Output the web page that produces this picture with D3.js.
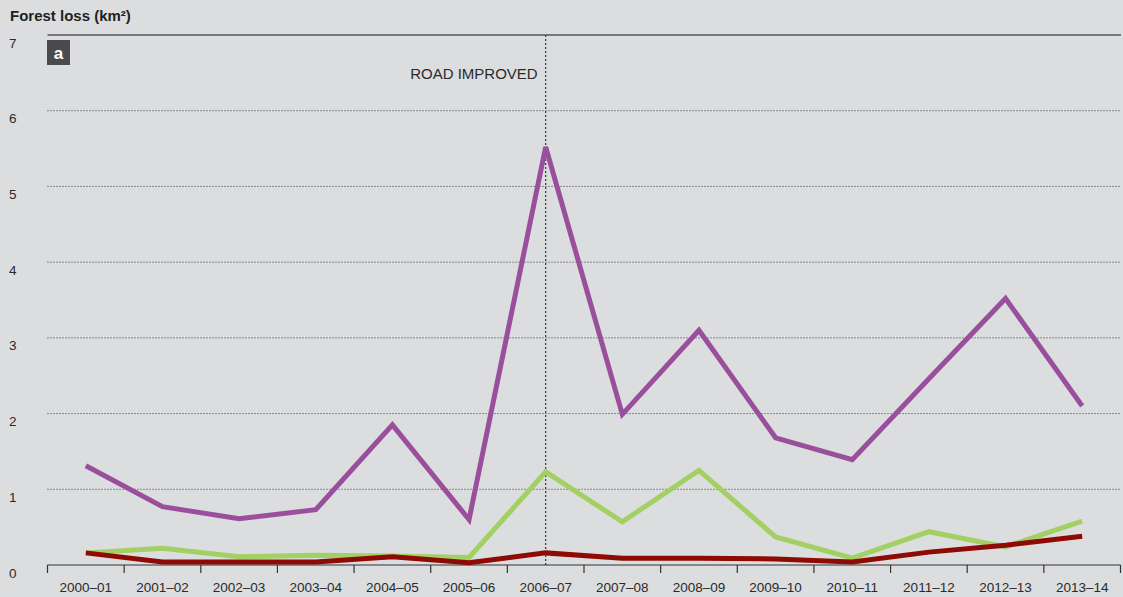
<!DOCTYPE html>
<html>
<head>
<meta charset="utf-8">
<script src="https://cdn.jsdelivr.net/npm/d3@7"></script>
<style>
  html, body { margin: 0; padding: 0; background: #dcdddf; }
  svg { display: block; font-family: "Liberation Sans", Arial, Helvetica, sans-serif; }
</style>
</head>
<body>
<svg id="chart" width="1123" height="597"></svg>
<script>
// Forest loss per year (km²), three series
const years = ["2000–01","2001–02","2002–03","2003–04","2004–05","2005–06","2006–07",
               "2007–08","2008–09","2009–10","2010–11","2011–12","2012–13","2013–14"];
const purpleSeries = [1.31, 0.77, 0.61, 0.73, 1.85, 0.60, 5.52, 1.99, 3.10, 1.68, 1.39, 2.46, 3.52, 2.10];
const greenSeries  = [0.16, 0.22, 0.11, 0.13, 0.12, 0.10, 1.23, 0.57, 1.25, 0.37, 0.09, 0.44, 0.24, 0.58];
const redSeries    = [0.16, 0.04, 0.04, 0.04, 0.11, 0.03, 0.16, 0.09, 0.09, 0.08, 0.04, 0.17, 0.26, 0.38];
const yTicks = [0, 1, 2, 3, 4, 5, 6, 7];
const eventYear = "2006–07";
const eventLabel = "ROAD IMPROVED";

const svg = d3.select("#chart");
const plotLeft = 47.5, plotRight = 1120.5, plotTop = 35, plotBottom = 565;

const x = d3.scaleBand().domain(years).range([plotLeft, plotRight]);
const y = d3.scaleLinear().domain([0, 7]).range([plotBottom, plotTop]);
const cx = d => x(d) + x.bandwidth() / 2;

// Title
svg.append("text").attr("x", 10).attr("y", 21)
  .attr("font-size", 15).attr("font-weight", "bold").attr("fill", "#222")
  .text("Forest loss (km²)");

// Dotted gridlines
svg.append("g").selectAll("line")
  .data(yTicks.filter(t => t > 0 && t < 7))
  .join("line")
  .attr("x1", plotLeft).attr("x2", plotRight)
  .attr("y1", d => y(d)).attr("y2", d => y(d))
  .attr("stroke", "#333").attr("stroke-width", 1)
  .attr("stroke-dasharray", "1,2");

// Top rule
svg.append("line").attr("x1", plotLeft).attr("x2", plotRight + 0.5)
  .attr("y1", y(7)).attr("y2", y(7))
  .attr("stroke", "#555").attr("stroke-width", 1.5);

// Y tick labels
svg.append("g").selectAll("text")
  .data(yTicks).join("text")
  .attr("x", 9).attr("y", d => y(d) + 12.5)
  .attr("font-size", 13.5).attr("fill", "#2a2a2a")
  .text(d => d);

// Event marker
const ex = cx(eventYear);
svg.append("line").attr("x1", ex).attr("x2", ex)
  .attr("y1", y(7)).attr("y2", plotBottom + 2)
  .attr("stroke", "#333").attr("stroke-width", 1.2)
  .attr("stroke-dasharray", "2,2");
svg.append("text").attr("x", ex - 8).attr("y", 79)
  .attr("text-anchor", "end").attr("font-size", 15).attr("fill", "#2a2a2a")
  .text(eventLabel);

// X axis
const xAxis = svg.append("g").attr("transform", `translate(0,${plotBottom})`);
xAxis.append("line").attr("x1", plotLeft).attr("x2", plotRight)
  .attr("stroke", "#333").attr("stroke-width", 1.2);
const edges = years.map(d => x(d)).concat([plotRight]);
xAxis.selectAll("line.tick").data(edges).join("line")
  .attr("class", "tick")
  .attr("x1", d => d).attr("x2", d => d)
  .attr("y1", 0).attr("y2", 8)
  .attr("stroke", "#333").attr("stroke-width", 1.2);
xAxis.selectAll("text").data(years).join("text")
  .attr("x", d => cx(d)).attr("y", 27)
  .attr("text-anchor", "middle").attr("font-size", 13.5).attr("fill", "#2a2a2a")
  .text(d => d);

// Panel tag
svg.append("rect").attr("x", 47).attr("y", 40).attr("width", 23).attr("height", 25)
  .attr("fill", "#4b4b4d");
svg.append("text").attr("x", 58.5).attr("y", 59)
  .attr("text-anchor", "middle").attr("font-size", 17).attr("font-weight", "bold")
  .attr("fill", "#fff").text("a");

// Series lines
const line = d3.line().x((d, i) => cx(years[i])).y(d => y(d));
const series = [
  { values: greenSeries, color: "#a2d063" },
  { values: purpleSeries, color: "#9a4f9d" },
  { values: redSeries, color: "#8e0a04" }
];
svg.append("g").selectAll("path").data(series).join("path")
  .attr("d", d => line(d.values))
  .attr("fill", "none").attr("stroke", d => d.color)
  .attr("stroke-width", 5).attr("stroke-linejoin", "miter");
</script>
</body>
</html>
